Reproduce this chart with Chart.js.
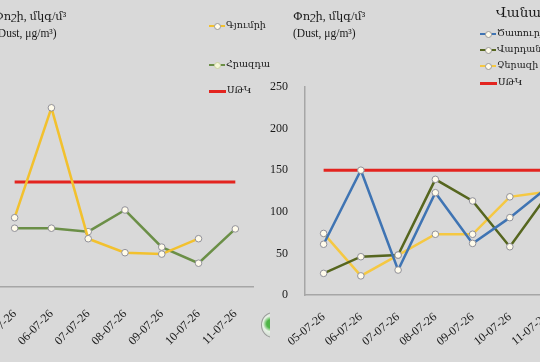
<!DOCTYPE html>
<html>
<head>
<meta charset="utf-8">
<script src="https://cdn.jsdelivr.net/npm/chart.js@4/dist/chart.umd.min.js"></script>
<style>
  html, body { margin:0; padding:0; width:540px; height:362px; overflow:hidden; background:#d9d9d9; }
  .panel { position:absolute; top:0; height:362px; overflow:hidden; background:#d9d9d9; }
  canvas { position:absolute; top:0; }
  .title { position:absolute; font-family:"Liberation Serif","DejaVu Serif",serif; font-size:11.5px; line-height:17px; color:#1a1a1a; white-space:nowrap; }
  .leg { position:absolute; font-family:"Liberation Serif","DejaVu Serif",serif; font-size:9.5px; color:#1a1a1a; white-space:nowrap; line-height:12px; }
  .sw { display:inline-block; position:relative; width:16px; height:10px; vertical-align:middle; margin-right:1px; }
  .sw i { position:absolute; left:0; right:0; top:4px; height:2px; }
  .sw b { position:absolute; left:5px; top:2px; width:5px; height:5px; border-radius:50%; background:#fffbea; border:0.5px solid #999; }
  .logo { position:absolute; left:261px; top:312px; width:22px; height:24px; border-radius:50%; border:1px solid #9a9a9a; background:radial-gradient(circle at 40% 45%, #4fb548 0 22%, #e8f2e6 42%, #cfd9cf 70%); }
</style>
</head>
<body>
<div class="panel" id="leftPanel" style="left:0;width:270px;">
  <canvas id="c1" width="298" height="362" style="left:-40px;"></canvas>
  <div class="title" style="left:-6px;top:8px;">Փոշի, մկգ/մ³<br>(Dust, μg/m³)</div>
  <div class="leg" style="left:209px;top:19px;"><span class="sw"><i style="background:#f2c12e"></i><b></b></span>Գյումրի</div>
  <div class="leg" style="left:209px;top:58px;"><span class="sw"><i style="background:#6b8f47"></i><b style="background:#f4f6d8;border-color:#c9d3a0"></b></span>Հրազդան</div>
  <div class="leg" style="left:209px;top:84px;"><span class="sw" style="width:17px"><i style="background:#e3241f;height:3px"></i></span>ՍԹԿ</div>
  <div class="logo"></div>
</div>
<div class="panel" id="rightPanel" style="left:270px;width:300px;">
  <canvas id="c2" width="300" height="362" style="left:0;"></canvas>
  <div class="title" style="left:23px;top:8px;">Փոշի, մկգ/մ³<br>(Dust, μg/m³)</div>
  <div class="leg" style="left:226px;top:5px;font-size:13.5px;line-height:16px;">Վանաձոր</div>
  <div class="leg" style="left:210px;top:27px;"><span class="sw"><i style="background:#3f74b3"></i><b></b></span>Ծատուրյան</div>
  <div class="leg" style="left:210px;top:43px;"><span class="sw"><i style="background:#56661f"></i><b></b></span>Վարդանանց</div>
  <div class="leg" style="left:210px;top:59px;"><span class="sw"><i style="background:#f5c842"></i><b></b></span>Չերազի 1</div>
  <div class="leg" style="left:210px;top:76px;"><span class="sw" style="width:17px"><i style="background:#e3241f;height:3px"></i></span>ՍԹԿ</div>
</div>
<script>
// ---- data ----
const dates = ["05-07-26","06-07-26","07-07-26","08-07-26","09-07-26","10-07-26","11-07-26"];
const gyumri   = [99, 256, 69, 49, 47, 69, null];
const hrazdan  = [84, 84, 79, 110, 57, 34, 83];
const tsaturyan = [61, 150, 30, 123, 62, 93, 129];
const vardanants = [26, 46, 48, 139, 113, 58, 120];
const cherazi  = [74, 23, 48, 73, 73, 118, 124];
const mpc      = [150, 150, 150, 150, 150, 150, 150];
const leftYTicks  = [0, 50, 100, 150, 200, 250, 300];
const rightYTicks = [0, 50, 100, 150, 200, 250];

const serif = '"Liberation Serif","DejaVu Serif",serif';

function lineDs(label, data, color) {
  return {
    label, data, borderColor: color, backgroundColor: color, borderWidth: 2.5,
    pointRadius: 3.3, pointHoverRadius: 3.3, pointBackgroundColor: '#fffbea',
    pointBorderColor: '#8f8f99', pointBorderWidth: 1, tension: 0, spanGaps: false
  };
}
function redDs(data) {
  return { label: 'ՍԹԿ', data, borderColor: '#e3241f', borderWidth: 3, pointRadius: 0, tension: 0 };
}
function makeOpts(yMax, yStep, yWidth, xHeight, padTop, padRight, rot, xPad) {
  return {
    responsive: false, animation: false, events: [],
    layout: { padding: { left: 0, right: padRight, top: padTop, bottom: 0 } },
    plugins: { legend: { display: false }, tooltip: { enabled: false } },
    scales: {
      x: {
        type: 'category', offset: true,
        grid: { display: false },
        border: { display: true, color: '#a6a6a6', width: 1.5 },
        ticks: { minRotation: rot, maxRotation: rot, autoSkip: false, color: '#1a1a1a',
                 font: { family: serif, size: 12 }, padding: xPad },
        afterFit: s => { s.height = xHeight; }
      },
      y: {
        min: 0, max: yMax,
        grid: { display: false },
        border: { display: true, color: '#a6a6a6', width: 1.5 },
        ticks: { stepSize: yStep, color: '#1a1a1a', font: { family: serif, size: 12 }, padding: 9 },
        afterFit: s => { s.width = yWidth; }
      }
    }
  };
}

new Chart(document.getElementById('c1'), {
  type: 'line',
  data: {
    labels: dates,
    datasets: [
      lineDs('Գյումրի', gyumri, '#f2c12e'),
      lineDs('Հրազդան', hrazdan, '#6b8f47'),
      redDs(mpc)
    ]
  },
  options: makeOpts(leftYTicks[leftYTicks.length-1], leftYTicks[1]-leftYTicks[0], 36.25, 75, 77, 0, 45, 12)
});

new Chart(document.getElementById('c2'), {
  type: 'line',
  data: {
    labels: dates,
    datasets: [
      lineDs('Ծատուրյան', tsaturyan, '#3f74b3'),
      lineDs('Վարդանանց', vardanants, '#56661f'),
      lineDs('Չերազի 1', cherazi, '#f5c842'),
      redDs(mpc)
    ]
  },
  options: makeOpts(rightYTicks[rightYTicks.length-1], rightYTicks[1]-rightYTicks[0], 35, 67, 87, 2, 39, 7)
});
</script>
</body>
</html>
